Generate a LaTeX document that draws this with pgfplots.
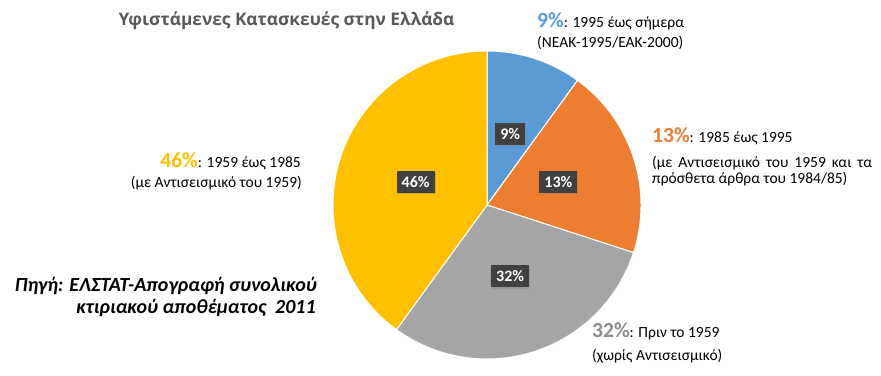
\documentclass[border=0pt]{standalone}
\usepackage{pgfplots}
\pgfplotsset{compat=1.18}
\usepackage{pgfplotstable}
\usepackage{fontspec}
\setmainfont{Carlito}
\newfontfamily\titlefont{Open Sans}
\usetikzlibrary{shadows,calc}
\definecolor{pieblue}{HTML}{5B9BD5}
\definecolor{pieorange}{HTML}{ED7D31}
\definecolor{piegray}{HTML}{A5A5A5}
\definecolor{pieyellow}{HTML}{FFC000}
\definecolor{labelbox}{HTML}{404040}
\definecolor{titlegray}{HTML}{595959}
\pgfplotstableread{
label value color
9 10 pieblue
13 20 pieorange
32 30 piegray
46 40 pieyellow
}\piedata
\newcommand{\sm}{\fontsize{15.5bp}{17bp}\selectfont}
\newcommand{\bg}{\fontsize{21.5bp}{24bp}\selectfont\bfseries}
\newcommand{\src}{\fontsize{20bp}{22bp}\selectfont\bfseries\itshape}
\begin{document}
\begin{tikzpicture}
\begin{axis}[x=1bp,y=1bp,xmin=0,xmax=881,ymin=0,ymax=375,
  hide axis, clip=false, scale only axis]
\path (axis cs:0,0) rectangle (axis cs:881,375);
\pgfplotsextra{
  \def\startang{90}
  \pgfplotsforeachungrouped \i in {0,...,3}{
    \pgfplotstablegetelem{\i}{value}\of\piedata \let\val\pgfplotsretval
    \pgfplotstablegetelem{\i}{color}\of\piedata \let\col\pgfplotsretval
    \pgfmathsetmacro\endang{\startang - 3.6*\val}
    \fill[\col, draw=white, line width=1bp] (axis cs:487,170) -- ++(\startang:154bp)
      arc[start angle=\startang, end angle=\endang, radius=154bp] -- cycle;
    \let\startang\endang
  }
  \def\startang{90}
  \pgfplotsforeachungrouped \i in {0,...,3}{
    \pgfplotstablegetelem{\i}{value}\of\piedata \let\val\pgfplotsretval
    \pgfplotstablegetelem{\i}{label}\of\piedata \let\lab\pgfplotsretval
    \pgfmathsetmacro\endang{\startang - 3.6*\val}
    \pgfmathsetmacro\midang{(\startang + \endang)/2}
    \node[fill=labelbox, text=white, font=\fontsize{16bp}{18bp}\selectfont\bfseries,
      inner xsep=5bp, inner ysep=3bp, minimum height=22bp,
      drop shadow={shadow xshift=1.2bp, shadow yshift=-1.2bp, opacity=0.35}]
      at ($(axis cs:487,170)+(\midang:75bp)$) {\lab\%};
    \let\startang\endang
  }
}
% title
\node[anchor=base west, text=titlegray, font=\titlefont\fontsize{17.3bp}{20bp}\selectfont\bfseries]
  at (axis cs:115,350) {Υφιστάμενες Κατασκευές στην Ελλάδα};
% 9%
\node[anchor=base west, inner sep=0pt] at (axis cs:537,348)
  {{\bg\color{pieblue}9\%}{\sm: 1995 έως σήμερα}};
\node[anchor=base west, inner sep=0pt] at (axis cs:537,328) {\sm(NEAK-1995/EAK-2000)};
% 13%
\node[anchor=base west, inner sep=0pt] at (axis cs:652,233)
  {{\bg\color{pieorange}13\%}{\sm: 1985 έως 1995}};
\node[anchor=base west, inner sep=0pt] at (axis cs:652,208)
  {\sm\makebox[220bp][s]{(με Αντισεισμικό του 1959 και τα}};
\node[anchor=base west, inner sep=0pt] at (axis cs:652,192) {\sm πρόσθετα άρθρα του 1984/85)};
% 46%
\node[anchor=base east, inner sep=0pt] at (axis cs:301,208)
  {{\bg\color{pieyellow}46\%}{\sm: 1959 έως 1985}};
\node[anchor=base east, inner sep=0pt] at (axis cs:302,188) {\sm(με Αντισεισμικό του 1959)};
% 32%
\node[anchor=base west, inner sep=0pt] at (axis cs:592,38)
  {{\bg\color{piegray!85!black}32\%}{\sm: Πριν το 1959}};
\node[anchor=base west, inner sep=0pt] at (axis cs:592,15) {\sm(χωρίς Αντισεισμικό)};
% source
\node[anchor=base east, inner sep=0pt] at (axis cs:317,84)
  {\src Πηγή: ΕΛΣΤΑΤ-Απογραφή συνολικού};
\node[anchor=base east, inner sep=0pt] at (axis cs:316,62)
  {\src κτιριακού αποθέματος\ \ 2011};
\end{axis}
\end{tikzpicture}
\end{document}
